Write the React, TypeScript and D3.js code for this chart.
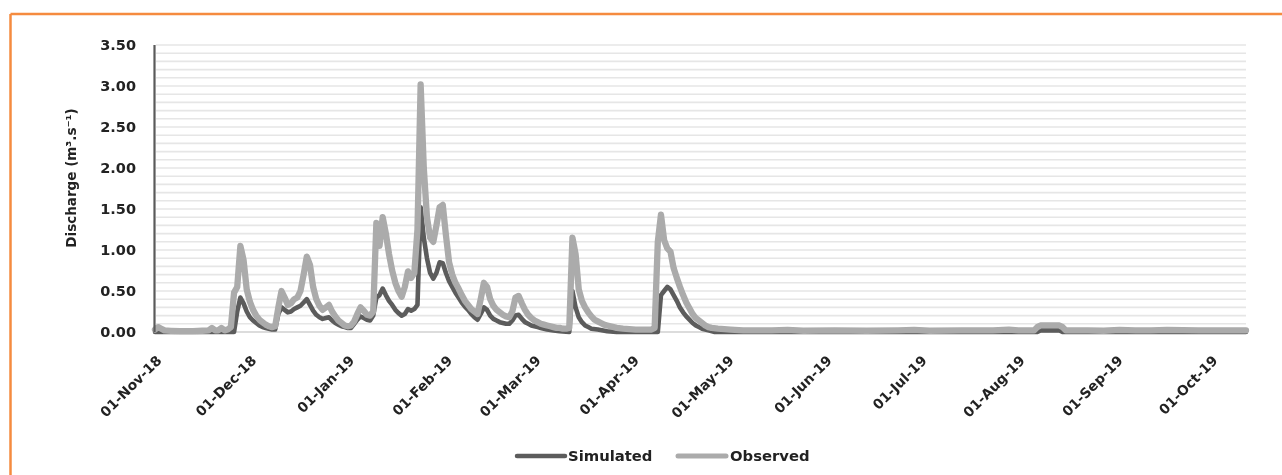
import React from "react";
import * as d3 from "d3";

// Day offsets counted from 01-Nov-2018, values in m3/s
const startDate = new Date(2018, 10, 1);
const endDate = new Date(2019, 9, 12);

const observed: [number, number][] = [
  [0, 0.03], [1, 0.06], [2, 0.04], [3, 0.02], [5, 0.015], [8, 0.01], [12, 0.01], [15, 0.015],
  [17, 0.02], [18, 0.05], [19, 0.02], [20, 0.02], [21, 0.05], [22, 0.02], [23, 0.03], [24, 0.06],
  [25, 0.48], [26, 0.55], [27, 1.05], [28, 0.88], [29, 0.52], [30, 0.37], [31, 0.27], [32, 0.2],
  [33, 0.15], [34, 0.12], [35, 0.09], [36, 0.07], [37, 0.06], [38, 0.07], [39, 0.3], [40, 0.5],
  [41, 0.42], [42, 0.33], [43, 0.35], [44, 0.4], [45, 0.42], [46, 0.5], [47, 0.7], [48, 0.92],
  [49, 0.82], [50, 0.55], [51, 0.4], [52, 0.32], [53, 0.27], [54, 0.3], [55, 0.33], [56, 0.25],
  [57, 0.19], [58, 0.14], [59, 0.11], [60, 0.08], [61, 0.07], [62, 0.08], [63, 0.13], [64, 0.22],
  [65, 0.3], [66, 0.26], [67, 0.21], [68, 0.2], [69, 0.25], [70, 1.33], [71, 1.05], [72, 1.4],
  [73, 1.2], [74, 0.95], [75, 0.75], [76, 0.6], [77, 0.5], [78, 0.43], [79, 0.55], [80, 0.74],
  [81, 0.66], [82, 0.72], [83, 1.25], [84, 3.02], [85, 2.0], [86, 1.4], [87, 1.15], [88, 1.1],
  [89, 1.3], [90, 1.52], [91, 1.55], [92, 1.18], [93, 0.85], [94, 0.7], [95, 0.6], [96, 0.53],
  [97, 0.45], [98, 0.38], [99, 0.33], [100, 0.28], [101, 0.25], [102, 0.22], [103, 0.4], [104, 0.6],
  [105, 0.55], [106, 0.4], [107, 0.32], [108, 0.27], [109, 0.24], [110, 0.21], [111, 0.19], [112, 0.18],
  [113, 0.25], [114, 0.42], [115, 0.44], [116, 0.35], [117, 0.27], [118, 0.21], [119, 0.17], [120, 0.14],
  [121, 0.12], [122, 0.1], [123, 0.09], [124, 0.08], [125, 0.07], [126, 0.06], [127, 0.05], [128, 0.05],
  [129, 0.04], [130, 0.04], [131, 0.05], [132, 1.15], [133, 0.95], [134, 0.52], [135, 0.38], [136, 0.3],
  [137, 0.24], [138, 0.19], [139, 0.15], [140, 0.13], [141, 0.11], [142, 0.09], [143, 0.08], [144, 0.07],
  [146, 0.05], [148, 0.04], [152, 0.03], [157, 0.03], [158, 0.05], [159, 1.1], [160, 1.43], [161, 1.12],
  [162, 1.02], [163, 0.98], [164, 0.78], [165, 0.66], [166, 0.55], [167, 0.45], [168, 0.36], [169, 0.29],
  [170, 0.22], [171, 0.17], [172, 0.14], [173, 0.11], [174, 0.08], [175, 0.06], [176, 0.05], [178, 0.04],
  [182, 0.03], [186, 0.02], [195, 0.02], [200, 0.025], [205, 0.015], [215, 0.02], [225, 0.015], [235, 0.02],
  [240, 0.025], [245, 0.015], [255, 0.02], [265, 0.02], [270, 0.03], [273, 0.02], [278, 0.02], [279, 0.06],
  [280, 0.08], [286, 0.08], [287, 0.06], [288, 0.02], [295, 0.02], [300, 0.015], [305, 0.025], [310, 0.02],
  [315, 0.02], [320, 0.025], [330, 0.02], [345, 0.02],
];

const simulated: [number, number][] = [
  [0, 0], [25, 0], [26, 0.25], [27, 0.42], [28, 0.35], [29, 0.25], [30, 0.18], [31, 0.14], [32, 0.11],
  [33, 0.08], [34, 0.06], [35, 0.05], [36, 0.04], [37, 0.03], [38, 0.03], [39, 0.22], [40, 0.3],
  [41, 0.27], [42, 0.24], [43, 0.25], [44, 0.28], [45, 0.3], [46, 0.32], [47, 0.36], [48, 0.4],
  [49, 0.33], [50, 0.26], [51, 0.21], [52, 0.18], [53, 0.16], [54, 0.17], [55, 0.18], [56, 0.14],
  [57, 0.11], [58, 0.09], [59, 0.07], [60, 0.06], [61, 0.05], [62, 0.05], [63, 0.1], [64, 0.15],
  [65, 0.19], [66, 0.17], [67, 0.15], [68, 0.14], [69, 0.2], [70, 0.42], [71, 0.45], [72, 0.53],
  [73, 0.45], [74, 0.38], [75, 0.33], [76, 0.27], [77, 0.23], [78, 0.2], [79, 0.22], [80, 0.28],
  [81, 0.26], [82, 0.28], [83, 0.33], [84, 1.52], [85, 1.15], [86, 0.9], [87, 0.72], [88, 0.65],
  [89, 0.72], [90, 0.85], [91, 0.84], [92, 0.72], [93, 0.62], [94, 0.55], [95, 0.48], [96, 0.42],
  [97, 0.36], [98, 0.31], [99, 0.27], [100, 0.22], [101, 0.18], [102, 0.15], [103, 0.22], [104, 0.3],
  [105, 0.27], [106, 0.2], [107, 0.16], [108, 0.14], [109, 0.12], [110, 0.11], [111, 0.1], [112, 0.1],
  [113, 0.14], [114, 0.2], [115, 0.21], [116, 0.16], [117, 0.12], [118, 0.1], [119, 0.08], [120, 0.07],
  [121, 0.06], [122, 0.05], [123, 0.04], [124, 0.03], [126, 0.02], [128, 0.01], [131, 0], [132, 0.5],
  [133, 0.3], [134, 0.18], [135, 0.12], [136, 0.08], [137, 0.06], [138, 0.04], [140, 0.03], [143, 0.01],
  [146, 0], [159, 0], [160, 0.45], [161, 0.5], [162, 0.55], [163, 0.52], [164, 0.45], [165, 0.38],
  [166, 0.3], [167, 0.24], [168, 0.19], [169, 0.15], [170, 0.11], [171, 0.08], [172, 0.06], [173, 0.04],
  [175, 0.02], [177, 0], [279, 0], [280, 0.02], [286, 0.02], [287, 0], [345, 0],
];

const yTickValues = [0, 0.5, 1, 1.5, 2, 2.5, 3, 3.5];
const seriesNames = ["Simulated", "Observed"];
const seriesColors = ["#5c5c5c", "#ababab"];

export default function App() {
  const W = 1282;
  const H = 475;
  const x = d3.scaleTime().domain([startDate, endDate]).range([155, 1246]);
  const y = d3.scaleLinear().domain([0, 3.5]).range([332, 45]);
  const toDate = (d: number) => d3.timeDay.offset(startDate, d);

  const line = d3
    .line<[number, number]>()
    .x((d) => x(toDate(d[0])))
    .y((d) => y(d[1]))
    .curve(d3.curveLinear);

  const grid = d3.range(1, 36).map((i) => i / 10);
  const months = d3.timeMonth.range(startDate, new Date(2019, 9, 2));
  const fmt = d3.timeFormat("%d-%b-%y");
  const font = "'DejaVu Sans', Verdana, sans-serif";

  return (
    <div style={{ position: "absolute", left: 0, top: 0 }}>
      <svg width={W} height={H} style={{ display: "block", background: "#fff" }}>
        <defs>
          <filter id="soft" filterUnits="userSpaceOnUse" x={0} y={0} width={W} height={H}>
            <feGaussianBlur stdDeviation="0.7" />
          </filter>
          <filter id="softText" filterUnits="userSpaceOnUse" x={0} y={0} width={W} height={H}>
            <feGaussianBlur stdDeviation="0.35" />
          </filter>
        </defs>
        {/* orange frame */}
        <line x1={10.5} y1={14} x2={W + 5} y2={14} stroke="#f58b3f" strokeWidth={2.5} />
        <line x1={10.5} y1={14} x2={10.5} y2={H + 5} stroke="#f58b3f" strokeWidth={2.5} />

        {/* gridlines */}
        {grid.map((g) => (
          <line key={g} x1={156} x2={1246} y1={y(g)} y2={y(g)} stroke="#e6e6e6" strokeWidth={1.6} />
        ))}
        <line x1={155} x2={1246} y1={y(0)} y2={y(0)} stroke="#d0d0d0" strokeWidth={1.5} />

        {/* series */}
        <g filter="url(#soft)">
          <path d={line(simulated) || ""} fill="none" stroke={seriesColors[0]} strokeWidth={4.6}
            strokeLinejoin="round" strokeLinecap="round" />
          <path d={line(observed) || ""} fill="none" stroke={seriesColors[1]} strokeWidth={6.3}
            strokeLinejoin="round" strokeLinecap="round" />
        </g>

        {/* y axis */}
        <line x1={154.5} x2={154.5} y1={45} y2={332} stroke="#5a5a5a" strokeWidth={2.2} />
        <g filter="url(#softText)">
          {yTickValues.map((t) => (
            <text key={t} x={136} y={y(t)} dy="0.36em" textAnchor="end" fontFamily={font}
              fontWeight="bold" fontSize={14.5} fill="#222">
              {t.toFixed(2)}
            </text>
          ))}
          <text transform={`translate(76,178) rotate(-90)`} textAnchor="middle" fontFamily={font}
            fontWeight="bold" fontSize={13.5} fill="#222">
            Discharge (m³.s⁻¹)
          </text>

          {/* x axis labels */}
          {months.map((m) => (
            <text key={+m} transform={`translate(${x(m) + 4},358) rotate(-45)`} textAnchor="end"
              dy="0.35em" fontFamily={font} fontWeight="bold" fontSize={13.8} fill="#222">
              {fmt(m)}
            </text>
          ))}

          {/* legend */}
          <text x={568} y={456} dy="0.36em" fontFamily={font} fontWeight="bold" fontSize={14.8} fill="#222">
            {seriesNames[0]}
          </text>
          <text x={730} y={456} dy="0.36em" fontFamily={font} fontWeight="bold" fontSize={14.8} fill="#222">
            {seriesNames[1]}
          </text>
        </g>
        <g filter="url(#soft)">
          <line x1={517} x2={565} y1={456} y2={456} stroke={seriesColors[0]} strokeWidth={4.5} strokeLinecap="round" />
          <line x1={678} x2={726} y1={456} y2={456} stroke={seriesColors[1]} strokeWidth={5} strokeLinecap="round" />
        </g>
      </svg>
    </div>
  );
}
